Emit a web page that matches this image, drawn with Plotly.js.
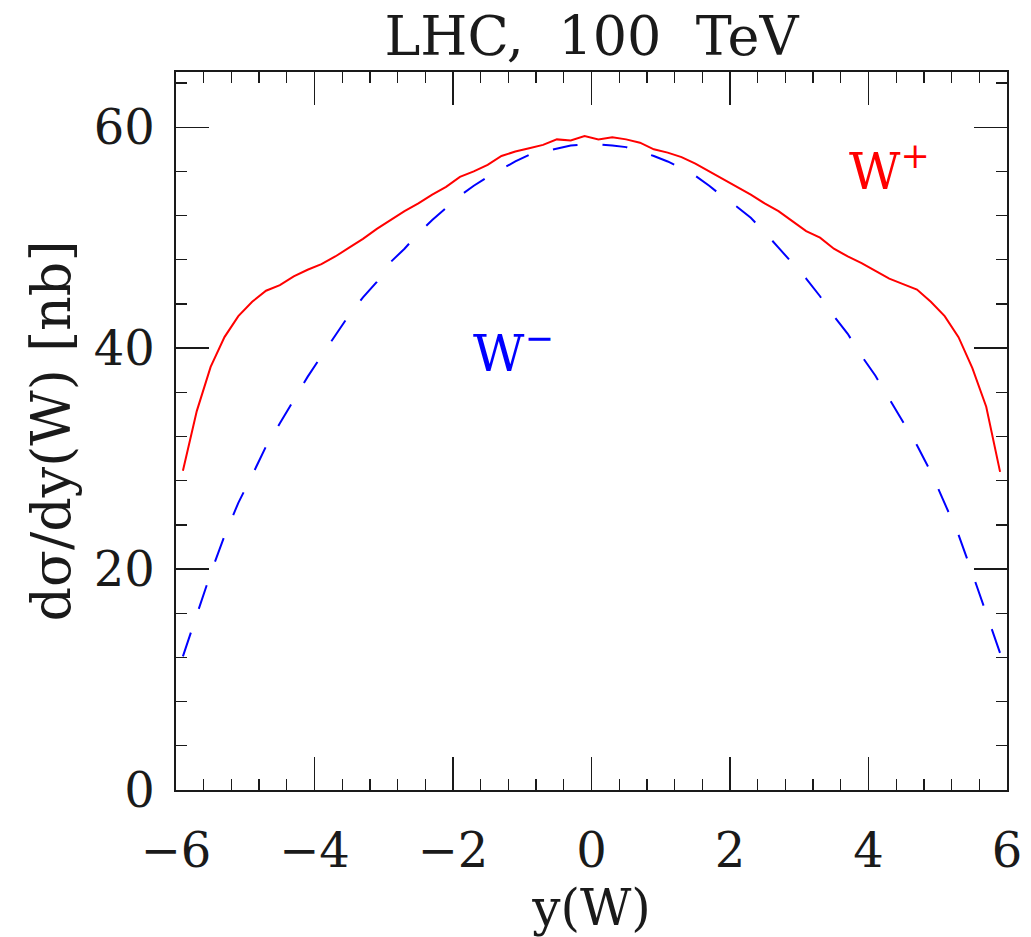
<!DOCTYPE html>
<html>
<head>
<meta charset="utf-8">
<script src="https://cdn.plot.ly/plotly-3.0.1.min.js"></script>
<style>
  html, body { margin: 0; padding: 0; background: #fff; }
  #chart { width: 1031px; height: 937px; }
</style>
</head>
<body>
<div id="chart"></div>
<script>
// Rapidity grid, y(W)
const rapidity = [
  -5.9, -5.7, -5.5, -5.3, -5.1, -4.9, -4.7, -4.5, -4.3, -4.1,
  -3.9, -3.7, -3.5, -3.3, -3.1, -2.9, -2.7, -2.5, -2.3, -2.1,
  -1.9, -1.7, -1.5, -1.3, -1.1, -0.9, -0.7, -0.5, -0.3, -0.1,
   0.1,  0.3,  0.5,  0.7,  0.9,  1.1,  1.3,  1.5,  1.7,  1.9,
   2.1,  2.3,  2.5,  2.7,  2.9,  3.1,  3.3,  3.5,  3.7,  3.9,
   4.1,  4.3,  4.5,  4.7,  4.9,  5.1,  5.3,  5.5,  5.7,  5.9
];

// dsigma/dy for W+ [nb]
const wPlus = [
  28.9, 34.3, 38.3, 41.0, 42.9, 44.2, 45.2, 45.7, 46.5, 47.1,
  47.6, 48.3, 49.1, 49.9, 50.8, 51.6, 52.4, 53.1, 53.9, 54.6,
  55.5, 56.0, 56.6, 57.4, 57.8, 58.1, 58.4, 58.9, 58.8, 59.2,
  58.9, 59.1, 58.9, 58.6, 58.0, 57.7, 57.3, 56.7, 56.0, 55.3,
  54.6, 53.9, 53.1, 52.4, 51.5, 50.6, 50.0, 49.0, 48.3, 47.7,
  47.0, 46.3, 45.8, 45.3, 44.2, 42.9, 41.0, 38.2, 34.7, 28.8
];

// dsigma/dy for W- [nb]
const wMinus = [
  12.1, 15.9, 19.6, 23.0, 26.0, 28.5, 31.1, 33.2, 35.3, 37.4,
  39.3, 41.2, 43.0, 44.6, 46.0, 47.8, 49.0, 50.4, 51.6, 52.7,
  53.8, 54.7, 55.5, 56.2, 56.9, 57.5, 57.8, 58.1, 58.35, 58.45,
  58.45, 58.35, 58.2, 57.8, 57.4, 56.9, 56.3, 55.6, 54.7, 53.7,
  52.8, 51.8, 50.5, 49.1, 47.7, 46.3, 44.7, 42.9, 41.3, 39.3,
  37.5, 35.4, 33.3, 31.2, 28.8, 26.0, 23.1, 19.6, 16.0, 12.4
];

const xTicks = [-6, -4, -2, 0, 2, 4, 6];
const yTicks = [0, 20, 40, 60];

const serif = 'DejaVu Serif, serif';
const ink = '#1a1a1a';

const traces = [
  {
    x: rapidity, y: wPlus, type: 'scatter', mode: 'lines', name: 'W+',
    line: { color: '#ff0000', width: 2 }
  },
  {
    x: rapidity, y: wMinus, type: 'scatter', mode: 'lines', name: 'W-',
    line: { color: '#0000ff', width: 2, dash: '25px,25px' }
  }
];

const axisCommon = {
  showgrid: false,
  zeroline: false,
  showline: true,
  linecolor: ink,
  linewidth: 1.6,
  mirror: 'ticks',
  ticks: 'inside',
  ticklen: 33,
  tickwidth: 1.3,
  tickcolor: ink,
  tickfont: { family: serif, size: 48, color: ink }
};

const layout = {
  width: 1031,
  height: 937,
  margin: { l: 176, r: 24, t: 72, b: 147 },
  paper_bgcolor: '#ffffff',
  plot_bgcolor: '#ffffff',
  showlegend: false,
  title: {
    text: 'LHC,  100  TeV',
    font: { family: serif, size: 54, color: ink },
    x: 0.5737, xanchor: 'center',
    y: 0.962, yanchor: 'middle'
  },
  xaxis: Object.assign({}, axisCommon, {
    range: [-6, 6],
    tickmode: 'array',
    tickvals: xTicks,
    ticktext: xTicks.map(v => (v < 0 ? '\u2212' + Math.abs(v) : String(v))),
    ticklabelstandoff: 18,
    minor: { ticks: 'inside', dtick: 0.4, tick0: -6, ticklen: 11, tickwidth: 1.3, tickcolor: ink, showgrid: false },
    title: { text: 'y(W)', font: { family: serif, size: 50, color: ink }, standoff: 40 }
  }),
  yaxis: Object.assign({}, axisCommon, {
    range: [0, 65],
    tickmode: 'array',
    tickvals: yTicks,
    ticklabelstandoff: 10,
    minor: { ticks: 'inside', dtick: 4, tick0: 0, ticklen: 11, tickwidth: 1.3, tickcolor: ink, showgrid: false },
    title: { text: 'd\u03c3/dy(W) [nb]', font: { family: serif, size: 54, color: ink }, standoff: 6 }
  }),
  annotations: [
    {
      x: 4.3, y: 56.3, xref: 'x', yref: 'y', showarrow: false,
      text: 'W<sup>+</sup>', xanchor: 'center', yanchor: 'middle',
      font: { family: serif, size: 50, color: '#ff0000' }
    },
    {
      x: -1.13, y: 39.8, xref: 'x', yref: 'y', showarrow: false,
      text: 'W<sup>\u2212</sup>', xanchor: 'center', yanchor: 'middle',
      font: { family: serif, size: 50, color: '#0000ff' }
    }
  ]
};

Plotly.newPlot('chart', traces, layout, { staticPlot: true, displayModeBar: false });
</script>
</body>
</html>
